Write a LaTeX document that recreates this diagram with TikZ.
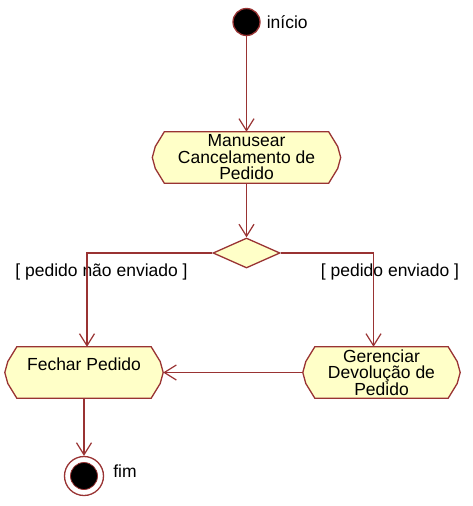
\documentclass[tikz,border=0pt]{standalone}
\usepackage{fontspec}
\setmainfont{Liberation Sans}
\usetikzlibrary{arrows.meta, positioning, shapes.geometric, backgrounds}
\definecolor{mRed}{HTML}{993333}
\definecolor{mFill}{HTML}{FFFFC8}

\tikzset{
  acao/.style={rectangle, inner sep=0pt, align=center,
    font=\fontsize{17.5}{16.5}\selectfont},
  contorno/.style={draw=mRed, fill=mFill, line width=1.3pt},
  decisao/.style={diamond, draw=mRed, fill=mFill, line width=1.3pt,
    inner sep=0pt, minimum width=67pt, minimum height=30pt},
  rotulo/.style={font=\fontsize{17.5}{16.5}\selectfont, inner sep=0pt},
  fluxo/.style={draw=mRed, line width=1.3pt,
    -{Straight Barb[length=12pt, width=15pt, line width=1.2pt]}}
}

\begin{document}
\begin{tikzpicture}[x=1pt, y=-1pt]
  \useasboundingbox (0,0) rectangle (472,506);
  % inicio
  \node[circle, fill=black, draw=mRed, line width=1.3pt, minimum size=27pt,
    inner sep=0pt] (inicio) at (246.5,22) {};
  \node[rotulo, right=6pt of inicio] (txtinicio) {início};
  % acoes
  \node[acao, minimum width=188pt, minimum height=51pt] (manusear) at (246.5,157.5)
    {Manusear\\Cancelamento de\\Pedido};
  \node[decisao] (ramo) at (246.5,253) {};
  \node[acao, minimum width=158pt, minimum height=51pt] (fechar) at (84,372.5)
    {Fechar Pedido\\\mbox{}};
  \node[acao, minimum width=157pt, minimum height=51pt] (gerenciar) at (381.5,372.5)
    {Gerenciar\\Devolução de\\Pedido};
  \begin{scope}[on background layer]
    \foreach \n in {manusear, fechar, gerenciar}
      \draw[contorno] ([shift={(12,0)}]\n.north west) -- ([shift={(-12,0)}]\n.north east)
        -- ([shift={(-3,-11)}]\n.east) -- (\n.east) -- ([shift={(-3,11)}]\n.east)
        -- ([shift={(-12,0)}]\n.south east) -- ([shift={(12,0)}]\n.south west)
        -- ([shift={(3,11)}]\n.west) -- (\n.west) -- ([shift={(3,-11)}]\n.west) -- cycle;
  \end{scope}
  % fim
  \node[circle, draw=mRed, fill=white, line width=1.3pt, minimum size=39pt,
    inner sep=0pt] (fim) at (84,476) {};
  \node[circle, fill=black, draw=mRed, line width=0.8pt, minimum size=27pt,
    inner sep=0pt] (fimmiolo) at (fim) {};
  \node[rotulo, right=9pt of fim, yshift=5pt] (txtfim) {fim};
  % guardas
  \node[rotulo] (naoenviado) at (101.5,272) {[ pedido não enviado ]};
  \node[rotulo] (enviado) at (390,272) {[ pedido enviado ]};
  % fluxos
  \draw[fluxo] (inicio) -- (manusear);
  \draw[fluxo] (manusear) -- (ramo);
  \draw[fluxo] (ramo.west) -| ([xshift=3pt]fechar.north);
  \draw[fluxo] (ramo.east) -| ([xshift=-8pt]gerenciar.north);
  \draw[fluxo] (gerenciar) -- (fechar);
  \draw[fluxo] (fechar) -- (fim);
\end{tikzpicture}
\end{document}
